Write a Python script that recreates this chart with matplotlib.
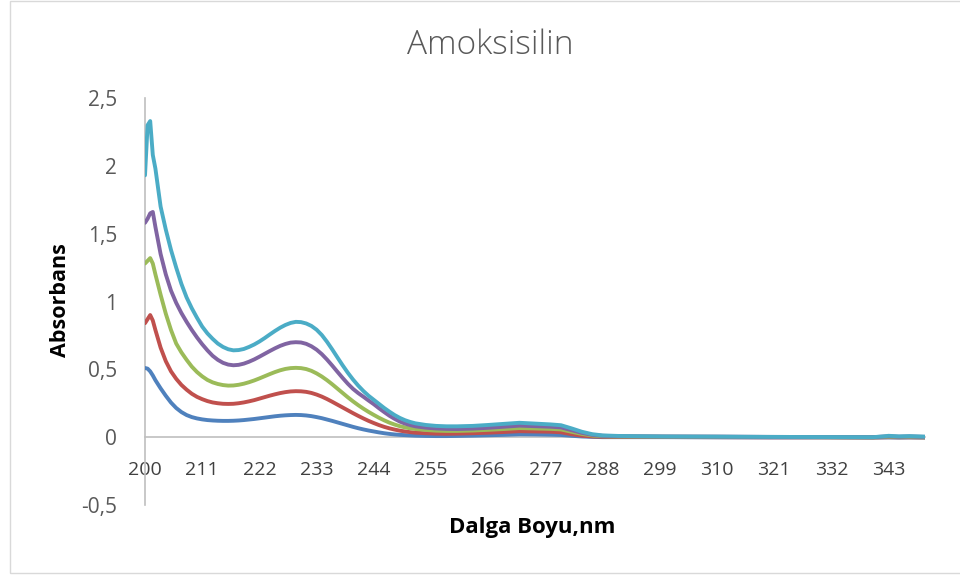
import matplotlib
matplotlib.use("Agg")
import matplotlib.pyplot as plt
from matplotlib.patches import Rectangle

# Wavelength (nm) and absorbance readings for five amoxicillin concentrations
wavelength = [200, 200.5, 201, 201.5, 202,
              203, 204, 205, 206, 207, 208, 209, 210, 211, 212,
              213, 214, 215, 216, 217, 218, 219, 220, 221, 222,
              223, 224, 225, 226, 227, 228, 229, 230, 231, 232,
              233, 234, 235, 236, 237, 238, 239, 240, 241, 242,
              243, 244, 245, 246, 247, 248, 249, 250, 251, 252,
              254, 256, 258, 260, 263, 266, 269, 272, 275, 278,
              280, 282, 284, 286, 288, 291, 295, 300, 310, 320,
              330, 340, 342, 343, 345, 347, 350]

series_1 = [0.51, 0.505, 0.485, 0.455, 0.42,
            0.36, 0.305, 0.255, 0.215, 0.185, 0.163, 0.148, 0.138, 0.131, 0.126,
            0.123, 0.121, 0.12, 0.12, 0.121, 0.123, 0.126, 0.13, 0.134, 0.139,
            0.144, 0.149, 0.154, 0.158, 0.161, 0.163, 0.164, 0.163, 0.16, 0.155,
            0.148, 0.14, 0.13, 0.12, 0.109, 0.098, 0.087, 0.076, 0.066, 0.057,
            0.049, 0.042, 0.035, 0.029, 0.024, 0.02, 0.017, 0.015, 0.013, 0.011,
            0.009, 0.008, 0.008, 0.009, 0.011, 0.014, 0.017, 0.021, 0.02, 0.018,
            0.016, 0.01, 0.005, 0.002, 0.0, 0.0, 0.0, 0.0, -0.001, -0.002,
            -0.002, -0.003, -0.002, -0.002, -0.003, -0.002, -0.003]

series_2 = [0.84, 0.87, 0.90, 0.86, 0.79,
            0.66, 0.56, 0.485, 0.43, 0.385, 0.35, 0.32, 0.297, 0.28, 0.266,
            0.256, 0.25, 0.246, 0.245, 0.246, 0.25, 0.256, 0.264, 0.273, 0.284,
            0.295, 0.306, 0.316, 0.325, 0.332, 0.337, 0.339, 0.338, 0.334, 0.326,
            0.314, 0.299, 0.281, 0.261, 0.24, 0.219, 0.198, 0.177, 0.157, 0.138,
            0.12, 0.104, 0.089, 0.076, 0.065, 0.056, 0.048, 0.042, 0.037, 0.033,
            0.029, 0.026, 0.025, 0.026, 0.029, 0.033, 0.038, 0.044, 0.042, 0.04,
            0.036, 0.022, 0.011, 0.005, 0.003, 0.002, 0.001, 0.001, 0.0, -0.001,
            -0.001, -0.002, -0.001, 0.0, -0.001, -0.001, -0.002]

series_3 = [1.28, 1.30, 1.32, 1.28, 1.20,
            1.05, 0.91, 0.79, 0.69, 0.625, 0.57, 0.52, 0.48, 0.448, 0.422,
            0.404, 0.392, 0.384, 0.38, 0.381, 0.386, 0.394, 0.405, 0.418, 0.433,
            0.449, 0.465, 0.48, 0.493, 0.503, 0.509, 0.511, 0.509, 0.502, 0.489,
            0.47, 0.447, 0.42, 0.39, 0.358, 0.326, 0.294, 0.264, 0.236, 0.21,
            0.186, 0.164, 0.143, 0.124, 0.107, 0.093, 0.081, 0.072, 0.065, 0.06,
            0.053, 0.048, 0.046, 0.046, 0.049, 0.054, 0.06, 0.067, 0.064, 0.061,
            0.057, 0.04, 0.024, 0.012, 0.007, 0.005, 0.004, 0.003, 0.002, 0.001,
            0.0, -0.001, 0.001, 0.002, 0.0, 0.001, -0.001]

series_4 = [1.58, 1.61, 1.65, 1.66, 1.55,
            1.35, 1.20, 1.08, 0.99, 0.915, 0.85, 0.79, 0.735, 0.685, 0.64,
            0.60, 0.57, 0.548, 0.535, 0.53, 0.533, 0.542, 0.556, 0.573, 0.593,
            0.614, 0.635, 0.655, 0.673, 0.687, 0.697, 0.70, 0.698, 0.688, 0.67,
            0.645, 0.612, 0.572, 0.528, 0.482, 0.437, 0.394, 0.356, 0.325, 0.298,
            0.27, 0.243, 0.213, 0.185, 0.158, 0.135, 0.115, 0.1, 0.089, 0.08,
            0.07, 0.064, 0.061, 0.06, 0.063, 0.069, 0.077, 0.085, 0.081, 0.077,
            0.072, 0.052, 0.032, 0.017, 0.01, 0.007, 0.006, 0.005, 0.004, 0.002,
            0.001, 0.0, 0.004, 0.006, 0.003, 0.005, 0.002]

series_5 = [1.93, 2.30, 2.33, 2.08, 1.98,
            1.70, 1.53, 1.38, 1.25, 1.13, 1.03, 0.95, 0.88, 0.815, 0.765,
            0.725, 0.69, 0.665, 0.648, 0.64, 0.642, 0.65, 0.665, 0.683, 0.705,
            0.73, 0.757, 0.783, 0.807, 0.827, 0.842, 0.85, 0.848, 0.838, 0.82,
            0.792, 0.753, 0.703, 0.647, 0.588, 0.53, 0.475, 0.425, 0.38, 0.34,
            0.305, 0.275, 0.245, 0.215, 0.188, 0.163, 0.142, 0.125, 0.112, 0.102,
            0.09, 0.083, 0.08, 0.08, 0.083, 0.09, 0.098, 0.106, 0.1, 0.094,
            0.088, 0.065, 0.04, 0.022, 0.013, 0.009, 0.007, 0.005, 0.004, 0.002,
            0.001, 0.0, 0.006, 0.01, 0.006, 0.008, 0.004]

colors = ["#4F81BD", "#C0504D", "#9BBB59", "#8064A2", "#4BACC6"]

x_ticks = list(range(200, 351, 11))
y_ticks = [-0.5, 0, 0.5, 1, 1.5, 2, 2.5]
y_tick_labels = ["-0,5", "0", "0,5", "1", "1,5", "2", "2,5"]

plt.rcParams["font.family"] = ["Open Sans", "DejaVu Sans"]

fig = plt.figure(figsize=(9.6, 5.79), dpi=100)
fig.patch.set_facecolor("white")

# light chart-area border
fig.patches.append(Rectangle((10 / 960, 1 - 573 / 579), 1.2, 572 / 579,
                             transform=fig.transFigure, fill=False,
                             edgecolor="#D9D9D9", linewidth=1.0))

ax = fig.add_axes([145 / 960, 1 - 505 / 579, 780 / 960, 407 / 579])

for ys, c in zip([series_1, series_2, series_3, series_4, series_5], colors):
    ax.plot(wavelength, ys, color=c, linewidth=2.8, solid_joinstyle="round",
            solid_capstyle="round", zorder=3)

ax.set_xlim(200, 350)
ax.set_ylim(-0.5, 2.5)

for side in ("top", "right"):
    ax.spines[side].set_visible(False)
ax.spines["left"].set_color("#BFBFBF")
ax.spines["left"].set_linewidth(1.2)
ax.spines["bottom"].set_position(("data", 0))
ax.spines["bottom"].set_color("#BFBFBF")
ax.spines["bottom"].set_linewidth(1.2)

ax.set_xticks(x_ticks)
ax.set_xticklabels([str(t) for t in x_ticks])
ax.set_yticks(y_ticks)
ax.set_yticklabels(y_tick_labels)
ax.tick_params(axis="x", length=0, pad=17, labelsize=14, labelcolor="#404040")
ax.tick_params(axis="y", length=0, pad=20, labelsize=15, labelcolor="#595959")

fig.text(490 / 960, 1 - 45 / 579, "Amoksisilin", ha="center", va="center",
         fontsize=24, color="#595959", fontweight="light")
fig.text(61 / 960, 1 - 300 / 579, "Absorbans", ha="center", va="center",
         rotation=90, fontsize=15.5, fontweight="bold", color="black")
fig.text(532 / 960, 1 - 528 / 579, "Dalga Boyu,nm", ha="center", va="center",
         fontsize=16, fontweight="bold", color="black")

fig.savefig("out.png", dpi=100, facecolor="white")
